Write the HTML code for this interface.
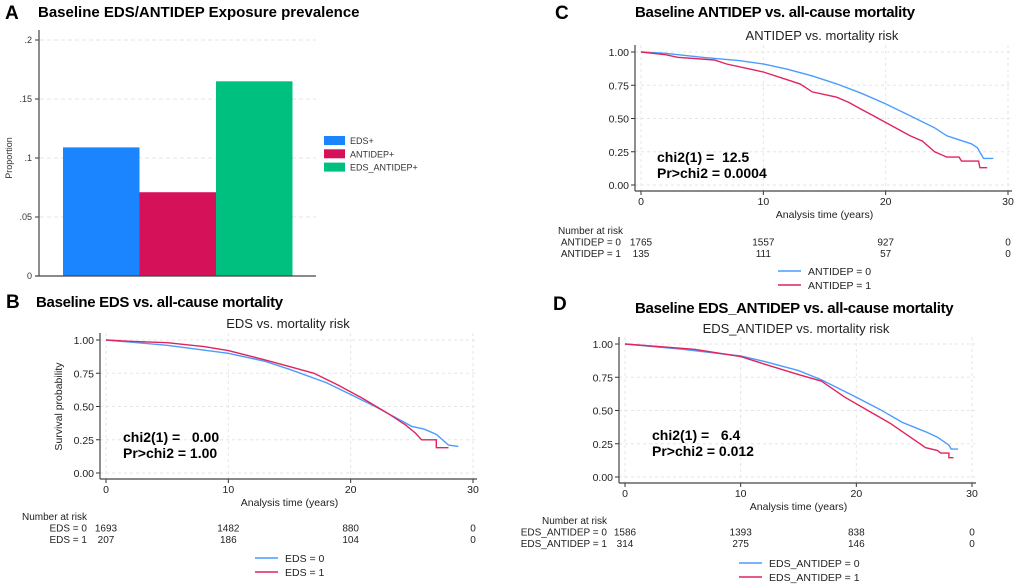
<!DOCTYPE html>
<html><head><meta charset="utf-8">
<style>
body{margin:0;background:#fff;}
svg{display:block;font-family:"Liberation Sans",Arial,sans-serif;}
</style></head>
<body>
<svg id="fig" width="1020" height="587" viewBox="0 0 1020 587"></svg>
<script>
// ---- Panel A data ----
const barCategories = ["EDS+","ANTIDEP+","EDS_ANTIDEP+"];
const barValues = [0.109, 0.071, 0.165];
const barColors = ["#1a85ff","#d41159","#00c07f"];
const barTicks = [0, 0.05, 0.1, 0.15, 0.2];
const barTickLabels = ["0",".05",".1",".15",".2"];

// ---- KM data ----
const kmTicksX = [0,10,20,30];
const kmTicksY = [0,0.25,0.5,0.75,1];
const kmTickLabelsY = ["0.00","0.25","0.50","0.75","1.00"];
const bTime0 = [0,5,10,13,15,18,20,22,24,25,26,27,28,28.8];
const bSurv0 = [1,0.96,0.90,0.84,0.78,0.68,0.59,0.50,0.40,0.35,0.33,0.29,0.21,0.20];
const bTime1 = [0,2,5,8,10,13,15,17,19,21,23,24.5,25.3,25.8,27,27,28];
const bSurv1 = [1,0.99,0.98,0.95,0.92,0.85,0.80,0.75,0.66,0.56,0.45,0.36,0.30,0.25,0.25,0.19,0.19];
const cTime0 = [0,2,5,8,10,12,14,16,18,20,22,24,25,26,27,27.5,28,28.8];
const cSurv0 = [1,0.99,0.96,0.935,0.91,0.87,0.82,0.76,0.69,0.61,0.52,0.43,0.37,0.34,0.31,0.28,0.20,0.20];
const cTime1 = [0,2,3,6,7,9,10,12,13,14,16,17,18,19,20,21,22,23,24,25,26,26.2,27.6,27.7,28.3];
const cSurv1 = [1,0.98,0.96,0.94,0.91,0.87,0.85,0.79,0.76,0.70,0.66,0.62,0.57,0.52,0.47,0.42,0.37,0.33,0.25,0.21,0.21,0.18,0.18,0.13,0.13];
const dTime0 = [0,5,10,12,15,17,20,22,24,26,27,28,28.2,28.8];
const dSurv0 = [1,0.96,0.91,0.87,0.80,0.73,0.60,0.51,0.41,0.34,0.30,0.24,0.21,0.21];
const dTime1 = [0,6,10,12,15,17,19,21,23,25,26,27,27.3,28,28,28.4];
const dSurv1 = [1,0.96,0.905,0.85,0.77,0.72,0.60,0.50,0.40,0.28,0.22,0.20,0.18,0.18,0.145,0.145];
const bRisk0 = ["1693","1482","880","0"], bRisk1 = ["207","186","104","0"];
const cRisk0 = ["1765","1557","927","0"], cRisk1 = ["135","111","57","0"];
const dRisk0 = ["1586","1393","838","0"], dRisk1 = ["314","275","146","0"];

const NS="http://www.w3.org/2000/svg";
const svg=document.getElementById('fig');
function mk(tag,attrs,parent,text){const e=document.createElementNS(NS,tag);for(const k in attrs)e.setAttribute(k,attrs[k]);if(text!==undefined)e.textContent=text;(parent||svg).appendChild(e);return e;}

// ---- Panel A ----
(function(){
  const g=mk('g',{});
  
  
  const y=v=>276-v/0.2*236;
  const l=mk('text',{x:5,y:19,'font-size':19,'font-weight':'bold'},g,'A');
  
  const t=mk('text',{x:38,y:17,'font-size':15,'font-weight':'bold'},g,'Baseline EDS/ANTIDEP Exposure prevalence');
  
  barTicks.forEach((v,i)=>{
    if(v>0) mk('line',{x1:40,x2:316,y1:y(v),y2:y(v),stroke:'#e4e4e4','stroke-dasharray':'4,3'},g);
    mk('line',{x1:35,x2:39,y1:y(v),y2:y(v),stroke:'#333'},g);
    const tl=mk('text',{x:32,y:y(v)+3,'font-size':9,'text-anchor':'end',fill:'#333'},g,barTickLabels[i]);
    
  });
  const yt=mk('text',{x:12,y:158,'font-size':9,'text-anchor':'middle',transform:'rotate(-90 12 158)',fill:'#333'},g,'Proportion');
  
  barValues.forEach((v,i)=>{
    const r=mk('rect',{x:63+i*76.5,y:y(v),width:76.5,height:276-y(v),fill:barColors[i]},g);
    
    
    const lr=mk('rect',{x:324,y:136+i*13.3,width:21,height:9,fill:barColors[i]},g);
    
    const lt=mk('text',{x:350,y:144+i*13.3,'font-size':9,fill:'#333'},g,barCategories[i]);
    
  });
  mk('line',{x1:39,x2:39,y1:30,y2:276,stroke:'#444','stroke-width':1.2},g);
  mk('line',{x1:35,x2:316,y1:276,y2:276,stroke:'#444','stroke-width':1.2},g);
})();

// ---- KM panel builder ----
function km(o){
  const g=mk('g',{});
  
  
  const X=t=>o.x0+t/30*(o.x30-o.x0);
  const Y=s=>o.y0-s*(o.y0-o.y1);
  const lab=mk('text',{x:o.lx,y:o.ly,'font-size':19,'font-weight':'bold'},g,o.letter);
  
  const ti=mk('text',{x:o.tx,y:o.ty,'font-size':15,'font-weight':'bold','letter-spacing':'-0.3'},g,o.title);
  
  const st=mk('text',{x:o.sx,y:o.sy,'font-size':13,'text-anchor':'middle',fill:'#222'},g,o.sub);
  
  // grid
  kmTicksY.forEach((v,i)=>{
    mk('line',{x1:o.x0-6,x2:X(30)+3,y1:Y(v),y2:Y(v),stroke:'#e6e6e6','stroke-dasharray':'3,3'},g);
    mk('line',{x1:o.x0-10,x2:o.x0-6,y1:Y(v),y2:Y(v),stroke:'#333'},g);
    const tl=mk('text',{x:o.x0-12,y:Y(v)+4,'font-size':10.5,'text-anchor':'end',fill:'#222'},g,kmTickLabelsY[i]);
    
  });
  kmTicksX.forEach(v=>{
    mk('line',{x1:X(v),x2:X(v),y1:Y(1)-7,y2:o.y0+6,stroke:'#e6e6e6','stroke-dasharray':'3,3'},g);
    mk('line',{x1:X(v),x2:X(v),y1:o.y0+6,y2:o.y0+10,stroke:'#333'},g);
    const tl=mk('text',{x:X(v),y:o.y0+20,'font-size':10.5,'text-anchor':'middle',fill:'#222'},g,String(v));
    
  });
  mk('line',{x1:o.x0-6,x2:o.x0-6,y1:Y(1)-7,y2:o.y0+6,stroke:'#444','stroke-width':1.2},g);
  mk('line',{x1:o.x0-6,x2:X(30)+4,y1:o.y0+6,y2:o.y0+6,stroke:'#444','stroke-width':1.2},g);
  const xt=mk('text',{x:(o.x0+X(30))/2,y:o.y0+33,'font-size':10.5,'text-anchor':'middle',fill:'#222'},g,'Analysis time (years)');
  
  if(o.ytitle){
    const yt=mk('text',{x:o.x0-44,y:Y(0.5),'font-size':10.5,'text-anchor':'middle',fill:'#222',transform:`rotate(-90 ${o.x0-44} ${Y(0.5)})`},g,'Survival probability');
    
  }
  const series=[[o.t0,o.s0,'#4a9cff','0'],[o.t1,o.s1,'#e0245e','1']];
  series.forEach(([t,s,c,k])=>{
    let d='';
    t.forEach((tv,i)=>{d+=(i?'L':'M')+X(tv).toFixed(1)+','+Y(s[i]).toFixed(1);});
    const p=mk('path',{d:d,fill:'none',stroke:c,'stroke-width':1.4},g);
    
  });
  const c1=mk('text',{x:o.cx,y:o.cy,'font-size':14,'font-weight':'bold'},g,o.chi);
  
  c1.setAttribute('xml:space','preserve');c1.style.whiteSpace='pre';
  const c2=mk('text',{x:o.cx,y:o.cy+16,'font-size':14,'font-weight':'bold'},g,o.pr);
  
  const nr=mk('text',{x:o.nx,y:o.ny,'font-size':10,fill:'#222'},g,'Number at risk');
  
  [[o.r0,o.grp+' = 0'],[o.r1,o.grp+' = 1']].forEach(([r,lbl],j)=>{
    const ry=o.ny+11.5*(j+1);
    const rl=mk('text',{x:o.rlx,y:ry,'font-size':10,'text-anchor':'end',fill:'#222'},g,lbl);
    
    r.forEach((v,i)=>{
      const rv=mk('text',{x:X(kmTicksX[i]),y:ry,'font-size':10,'text-anchor':'middle',fill:'#222'},g,v);
      
    });
  });
  series.forEach(([t,s,c,k],j)=>{
    const ly=o.legy+j*14;
    const ll=mk('line',{x1:o.legx,x2:o.legx+23,y1:ly,y2:ly,stroke:c,'stroke-width':1.4},g);
    
    const lt=mk('text',{x:o.legx+30,y:ly+4,'font-size':10.5,fill:'#222'},g,o.grp+' = '+k);
    
  });
}

km({name:'panel-b',letter:'B',lx:6,ly:308,tx:36,ty:307,title:'Baseline EDS vs. all-cause mortality',
  sx:288,sy:328,sub:'EDS vs. mortality risk',x0:106,x30:473,y1:340,y0:473,ytitle:true,
  t0:bTime0,s0:bSurv0,t1:bTime1,s1:bSurv1,cx:123,cy:442,chi:'chi2(1) =   0.00',pr:'Pr>chi2 = 1.00',
  nx:22,ny:520,rlx:87,r0:bRisk0,r1:bRisk1,grp:'EDS',legx:255,legy:558});
km({name:'panel-c',letter:'C',lx:555,ly:19,tx:635,ty:17,title:'Baseline ANTIDEP vs. all-cause mortality',
  sx:822,sy:40,sub:'ANTIDEP vs. mortality risk',x0:641,x30:1008,y1:52,y0:185,ytitle:false,
  t0:cTime0,s0:cSurv0,t1:cTime1,s1:cSurv1,cx:657,cy:162,chi:'chi2(1) =  12.5',pr:'Pr>chi2 = 0.0004',
  nx:558,ny:234,rlx:621,r0:cRisk0,r1:cRisk1,grp:'ANTIDEP',legx:778,legy:271});
km({name:'panel-d',letter:'D',lx:553,ly:310,tx:635,ty:313,title:'Baseline EDS_ANTIDEP vs. all-cause mortality',
  sx:796,sy:333,sub:'EDS_ANTIDEP vs. mortality risk',x0:625,x30:972,y1:344,y0:477,ytitle:false,
  t0:dTime0,s0:dSurv0,t1:dTime1,s1:dSurv1,cx:652,cy:440,chi:'chi2(1) =   6.4',pr:'Pr>chi2 = 0.012',
  nx:542,ny:524,rlx:607,r0:dRisk0,r1:dRisk1,grp:'EDS_ANTIDEP',legx:739,legy:563});
</script>
</body></html>
